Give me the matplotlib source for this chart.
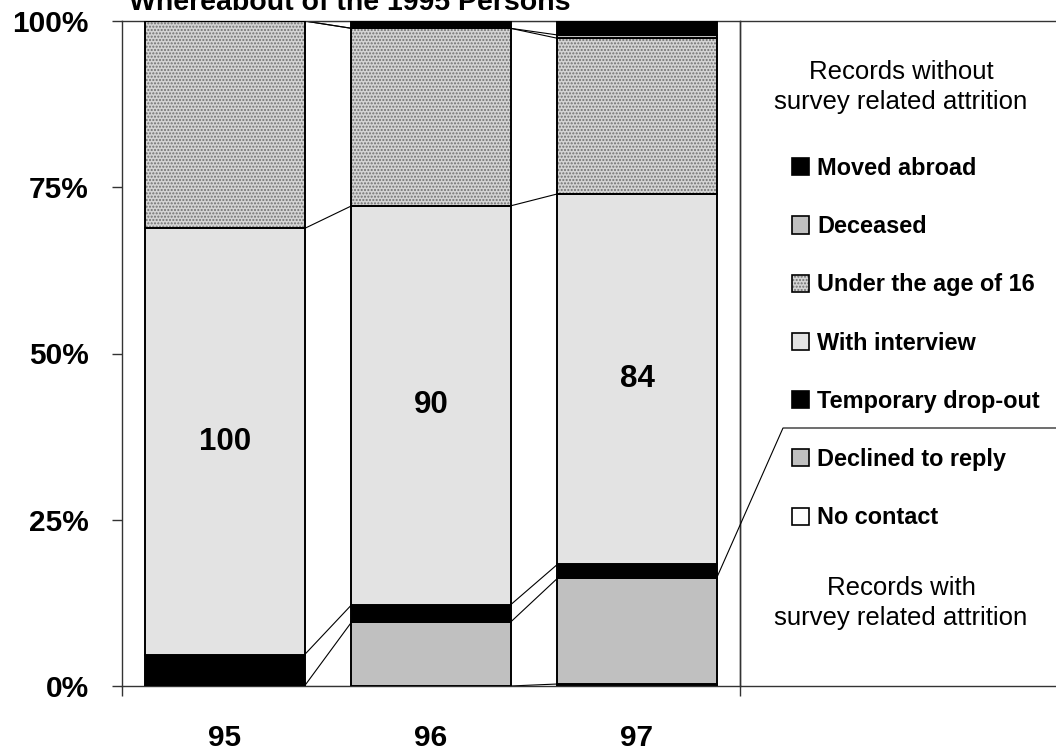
import numpy as np
import matplotlib.pyplot as plt
from matplotlib.patches import Patch, Rectangle
from matplotlib.lines import Line2D

plt.rcParams['font.family'] = ['Liberation Sans', 'DejaVu Sans']
plt.rcParams['hatch.color'] = '#707070'
plt.rcParams['hatch.linewidth'] = 1.0

# share of the 1995 persons (%), bottom to top of each bar
years = ['95', '96', '97']
no_contact = [0.0, 0.0, 0.3]
declined = [0.0, 9.6, 15.9]
temp_dropout = [4.7, 2.6, 2.1]
with_interview = [64.1, 60.0, 55.7]
under_16 = [31.2, 26.7, 23.4]
deceased = [0.0, 0.0, 0.5]
moved_abroad = [0.0, 1.1, 2.1]
interview_index = [100, 90, 84]

series = [
    ('No contact', no_contact, 'white', None),
    ('Declined to reply', declined, '#c0c0c0', None),
    ('Temporary drop-out', temp_dropout, 'black', None),
    ('With interview', with_interview, '#e3e3e3', None),
    ('Under the age of 16', under_16, '#d4d4d4', '.....'),
    ('Deceased', deceased, '#c0c0c0', None),
    ('Moved abroad', moved_abroad, 'black', None),
]

W, H = 1056, 756
fig = plt.figure(figsize=(W / 100, H / 100), dpi=100)
ax = fig.add_axes([122 / W, 70 / H, 618 / W, 665 / H])

x = np.arange(len(years))
width = 0.772
bottom = np.zeros(len(years))
tops = []
handles = {}
for name, vals, color, hatch in series:
    vals = np.array(vals)
    if hatch:
        ax.bar(x, vals, width, bottom=bottom, color=color, hatch=hatch, linewidth=0, zorder=2)
        ax.bar(x, vals, width, bottom=bottom, fill=False, edgecolor='black', linewidth=1.4, zorder=3)
        handles[name] = (Patch(facecolor=color, hatch=hatch, linewidth=0),
                         Patch(fill=False, edgecolor='black', linewidth=1.2))
    else:
        ax.bar(x, vals, width, bottom=bottom, color=color, edgecolor='black', linewidth=1.4, zorder=3)
        handles[name] = Patch(facecolor=color, edgecolor='black', linewidth=1.2)
    bottom = bottom + vals
    tops.append(bottom.copy())

# series lines between the bars
for top in tops:
    for i in range(len(x) - 1):
        ax.plot([x[i] + width / 2, x[i + 1] - width / 2], [top[i], top[i + 1]],
                color='black', lw=0.8, zorder=1)

# index of interviews in the middle of the "with interview" block
mid = tops[2] + np.array(with_interview) / 2
for i, v in enumerate(interview_index):
    ax.text(x[i], mid[i], str(v), ha='center', va='center',
            fontsize=22.5, fontweight='bold', zorder=4)

ax.set_xlim(-0.5, 2.5)
ax.set_ylim(0, 100)
ax.set_yticks([0, 25, 50, 75, 100])
ax.set_yticklabels(['0%', '25%', '50%', '75%', '100%'])
ax.set_xticks(x, years)
ax.set_xticks([-0.5, 2.5], minor=True)
ax.tick_params(axis='y', direction='out', length=7, width=1, pad=17,
               labelsize=21.5, color='#333333')
ax.tick_params(axis='x', which='major', length=0, pad=27, labelsize=21.5)
ax.tick_params(axis='x', which='minor', direction='out', length=7, width=1, color='#333333')
for lab in ax.get_xticklabels() + ax.get_yticklabels():
    lab.set_fontweight('bold')
for sp in ax.spines.values():
    sp.set_color('#333333')
    sp.set_linewidth(1.0)

fig.text(350 / W, 1 - 10 / H, 'Whereabout of the 1995 Persons', ha='center',
         va='baseline', fontsize=20.5, fontweight='bold')

# legend panel
fig.add_artist(Rectangle((740 / W, 70 / H), 1, 665 / H, fill=False,
                         edgecolor='#333333', lw=1.0, transform=fig.transFigure))
order = ['Moved abroad', 'Deceased', 'Under the age of 16', 'With interview',
         'Temporary drop-out', 'Declined to reply', 'No contact']
leg = ax.legend([handles[n] for n in order], order, loc='upper left',
                bbox_to_anchor=(792 / W, 1 - 157 / H), bbox_transform=fig.transFigure,
                frameon=False, borderpad=0, borderaxespad=0, handlelength=0.74,
                handleheight=0.74, handletextpad=0.33, labelspacing=1.5,
                prop={'size': 16.9, 'weight': 'bold'})

fig.text(901 / W, 1 - 87 / H, 'Records without\nsurvey related attrition',
         ha='center', va='center', fontsize=18.5, linespacing=1.3)
fig.text(901 / W, 1 - 603 / H, 'Records with\nsurvey related attrition',
         ha='center', va='center', fontsize=18.5, linespacing=1.3)

# separator between attrition groups, starting at the top of "Declined to reply" in 97
start = ax.transData.transform((x[2] + width / 2, tops[1][2]))
sx, sy = fig.transFigure.inverted().transform(start)
fig.add_artist(Line2D([sx, 783 / W, 1], [sy, 1 - 428 / H, 1 - 428 / H],
                      color='black', lw=0.8, transform=fig.transFigure))

fig.savefig('out.png', dpi=100)
